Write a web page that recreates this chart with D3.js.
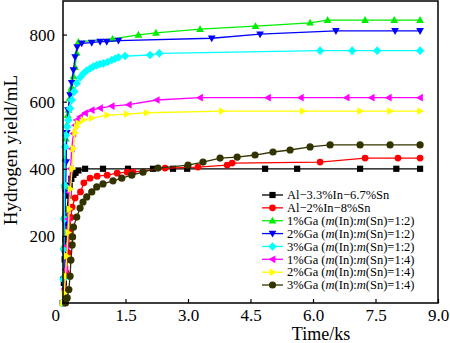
<!DOCTYPE html>
<html>
<head>
<meta charset="utf-8">
<script src="https://cdn.jsdelivr.net/npm/d3@7"></script>
<style>
  body { margin: 0; background: #fff; }
  text { font-family: "Liberation Serif", "Times New Roman", serif; }
</style>
</head>
<body>
<div id="chart"></div>
<script>
// series values (time in ks, yield in mL)
const tBlack = [0, 0.02, 0.04, 0.06, 0.08, 0.10, 0.13, 0.16, 0.2, 0.25, 0.3, 0.37, 0.53, 0.96, 1.56, 2.16, 2.64, 2.98, 4.85, 5.62, 7.13, 8.0, 8.57];
const vBlack = [0, 60, 130, 190, 240, 280, 320, 350, 370, 382, 388, 395, 400, 400, 400, 400, 400, 400, 400, 400, 400, 400, 400];

const tRed = [0, 0.04, 0.08, 0.12, 0.16, 0.19, 0.22, 0.29, 0.42, 0.5, 0.65, 0.82, 1.06, 1.3, 1.54, 1.68, 2.45, 3.24, 3.94, 4.06, 6.17, 7.25, 8.04, 8.57];
const vRed = [0, 40, 90, 150, 210, 255, 286, 313, 331, 358, 372, 378, 381, 387, 390, 390, 402, 405, 411, 417, 420, 432, 432, 432];

const tGreen = [0, 0.01, 0.02, 0.03, 0.04, 0.05, 0.07, 0.09, 0.11, 0.13, 0.16, 0.19, 0.21, 0.25, 0.29, 0.33, 0.37, 1.19, 1.81, 2.23, 3.29, 4.62, 5.93, 6.35, 7.25, 7.95, 8.57];
const vGreen = [0, 80, 170, 260, 350, 430, 490, 530, 560, 575, 610, 635, 644, 675, 703, 745, 778, 787, 799, 805, 816, 825, 835, 843, 843, 843, 843];

const tBlue = [0, 0.015, 0.03, 0.045, 0.06, 0.075, 0.09, 0.12, 0.17, 0.21, 0.25, 0.29, 0.34, 0.45, 0.69, 0.89, 1.05, 1.33, 3.57, 4.73, 6.55, 7.97, 8.57];
const vBlue = [0, 70, 150, 240, 330, 420, 507, 575, 620, 656, 694, 733, 763, 774, 776, 779, 779, 782, 789, 801, 811, 811, 811];

const tCyan = [0, 0.01, 0.02, 0.03, 0.04, 0.05, 0.07, 0.1, 0.13, 0.17, 0.21, 0.27, 0.33, 0.41, 0.49, 0.57, 0.65, 0.73, 0.81, 0.89, 0.97, 1.07, 1.17, 1.25, 1.33, 1.49, 2.09, 2.31, 6.17, 6.94, 7.54, 8.57];
const vCyan = [0, 70, 160, 250, 350, 465, 500, 525, 545, 580, 605, 630, 655, 672, 684, 693, 699, 705, 709, 712, 714, 718, 724, 728, 732, 736, 739, 744, 752, 752, 752, 752];

const tMagenta = [0, 0.03, 0.06, 0.09, 0.12, 0.15, 0.18, 0.21, 0.25, 0.29, 0.33, 0.41, 0.53, 0.69, 0.89, 1.17, 1.58, 2.25, 3.29, 4.92, 5.71, 6.81, 7.41, 7.82, 8.57];
const vMagenta = [0, 40, 100, 170, 250, 330, 400, 460, 505, 530, 545, 555, 566, 575, 581, 587, 591, 605, 612, 612, 612, 612, 612, 612, 612];

const tYellow = [0, 0.03, 0.06, 0.09, 0.12, 0.15, 0.18, 0.22, 0.25, 0.29, 0.33, 0.37, 0.49, 0.69, 1.06, 1.53, 2.01, 3.81, 5.75, 7.13, 7.85, 8.57];
const vYellow = [0, 30, 80, 140, 210, 280, 340, 400, 460, 507, 525, 536, 545, 551, 560, 563, 567, 572, 572, 572, 572, 572];

const tOlive = [0.06, 0.1, 0.14, 0.17, 0.19, 0.22, 0.23, 0.25, 0.33, 0.41, 0.48, 0.57, 0.69, 0.81, 0.96, 1.2, 1.41, 1.65, 1.92, 2.28, 3.0, 3.36, 3.77, 4.18, 4.61, 5.04, 5.45, 5.93, 6.41, 7.13, 7.85, 8.57];
const vOlive = [0, 15, 40, 80, 128, 173, 197, 226, 256, 283, 301, 316, 331, 346, 355, 364, 372, 381, 390, 402, 411, 420, 432, 435, 441, 450, 456, 465, 471, 471, 471, 471];

const seriesNames = [
  "Al\u22123.3%In\u22126.7%Sn",
  "Al\u22122%In\u22128%Sn",
  "1%Ga (m(In):m(Sn)=1:2)",
  "2%Ga (m(In):m(Sn)=1:2)",
  "3%Ga (m(In):m(Sn)=1:2)",
  "1%Ga (m(In):m(Sn)=1:4)",
  "2%Ga (m(In):m(Sn)=1:4)",
  "3%Ga (m(In):m(Sn)=1:4)"
];
const seriesColors = ["#000000", "#ff0000", "#00ee00", "#0000ff", "#00ffff", "#ff00ff", "#ffff00", "#333300"];
const seriesShapes = ["square", "circle", "up", "down", "diamond", "left", "right", "circle"];

const xTicks = [1.5, 3.0, 4.5, 6.0, 7.5, 9.0];
const yTicks = [200, 400, 600, 800];

const allT = [tBlack, tRed, tGreen, tBlue, tCyan, tMagenta, tYellow, tOlive];
const allV = [vBlack, vRed, vGreen, vBlue, vCyan, vMagenta, vYellow, vOlive];

const width = 450, height = 343;
const svg = d3.select("#chart").append("svg")
  .attr("width", width).attr("height", height);

const x = d3.scaleLinear().domain([0, 9]).range([63, 438]);
const y = d3.scaleLinear().domain([0, 900]).range([303, 1]);

function shapePath(shape, s) {
  // s = half size
  switch (shape) {
    case "square": return `M${-s},${-s}H${s}V${s}H${-s}Z`;
    case "circle": return `M${-s},0A${s},${s} 0 1,0 ${s},0A${s},${s} 0 1,0 ${-s},0Z`;
    case "up": return `M0,${-s * 1.15}L${s * 1.1},${s * 0.8}L${-s * 1.1},${s * 0.8}Z`;
    case "down": return `M0,${s * 1.15}L${s * 1.1},${-s * 0.8}L${-s * 1.1},${-s * 0.8}Z`;
    case "left": return `M${-s * 1.15},0L${s * 0.8},${s * 1.1}L${s * 0.8},${-s * 1.1}Z`;
    case "right": return `M${s * 1.15},0L${-s * 0.8},${s * 1.1}L${-s * 0.8},${-s * 1.1}Z`;
    case "diamond": return `M0,${-s * 1.3}L${s * 1.3},0L0,${s * 1.3}L${-s * 1.3},0Z`;
  }
}
const markerHalf = [3.1, 3.4, 3.5, 3.5, 3.3, 3.5, 3.5, 3.6];

const line = d3.line().x(d => x(d[0])).y(d => y(d[1]));

const plot = svg.append("g");
allT.forEach((ts, i) => {
  const pts = ts.map((t, k) => [t, allV[i][k]]);
  const g = plot.append("g");
  g.append("path").datum(pts)
    .attr("d", line)
    .attr("fill", "none")
    .attr("stroke", seriesColors[i])
    .attr("stroke-width", 1.3);
  g.selectAll("path.m").data(pts).enter().append("path")
    .attr("class", "m")
    .attr("transform", d => `translate(${x(d[0])},${y(d[1])})`)
    .attr("d", shapePath(seriesShapes[i], markerHalf[i]))
    .attr("fill", seriesColors[i]);
});

// frame
svg.append("rect")
  .attr("x", 63).attr("y", 1).attr("width", 375).attr("height", 302)
  .attr("fill", "none").attr("stroke", "#000").attr("stroke-width", 1.5);

// axes, ticks pointing inward
const xAxis = svg.append("g").attr("transform", "translate(0,303)")
  .call(d3.axisBottom(x).tickValues(xTicks).tickSize(-4).tickPadding(6).tickFormat(d3.format(".1f")));
const yAxis = svg.append("g").attr("transform", "translate(63,0)")
  .call(d3.axisLeft(y).tickValues(yTicks).tickSize(-4).tickPadding(8));
[xAxis, yAxis].forEach(a => {
  a.select(".domain").remove();
  a.selectAll("line").attr("stroke", "#000").attr("stroke-width", 1.2);
  a.selectAll("text").attr("font-size", 17).attr("fill", "#000");
});

svg.append("text").attr("x", 60).attr("y", 321)
  .attr("text-anchor", "end").attr("font-size", 17).text("0");

svg.append("text").attr("x", 321).attr("y", 340)
  .attr("text-anchor", "middle").attr("font-size", 18).text("Time/ks");

svg.append("text")
  .attr("transform", "translate(16.5,150) rotate(-90)")
  .attr("text-anchor", "middle").attr("font-size", 19).text("Hydrogen yield/mL");

// legend
const leg = svg.append("g");
seriesNames.forEach((name, i) => {
  const ly = 195 + i * 12.86;
  leg.append("line").attr("x1", 262).attr("x2", 283).attr("y1", ly).attr("y2", ly)
    .attr("stroke", seriesColors[i]).attr("stroke-width", 1.3);
  leg.append("path").attr("transform", `translate(272.5,${ly})`)
    .attr("d", shapePath(seriesShapes[i], markerHalf[i]))
    .attr("fill", seriesColors[i]);
  const t = leg.append("text").attr("x", 287).attr("y", ly + 4.3).attr("font-size", 12.5);
  const m = name.match(/^(.*\()m(\(In\):)m(\(Sn\).*)$/);
  if (m) {
    t.append("tspan").text(m[1]);
    t.append("tspan").attr("font-style", "italic").text("m");
    t.append("tspan").text(m[2]);
    t.append("tspan").attr("font-style", "italic").text("m");
    t.append("tspan").text(m[3]);
  } else {
    t.text(name);
  }
});
</script>
</body>
</html>
